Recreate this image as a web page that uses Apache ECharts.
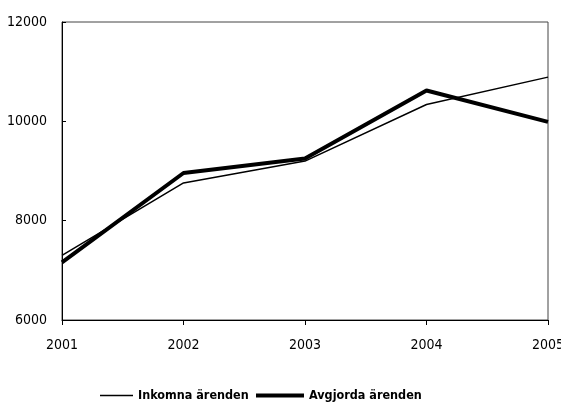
<!DOCTYPE html>
<html><head><meta charset="utf-8">
<script src="https://cdn.jsdelivr.net/npm/echarts@6/dist/echarts.min.js"></script>
<style>html,body{margin:0;padding:0;background:#fff}#c{width:561px;height:404px}</style>
</head><body><div id="c"></div>
<script>
const years = ['2001','2002','2003','2004','2005'];
const inkomna = [7300, 8760, 9200, 10340, 10890];
const avgjorda = [7160, 8960, 9250, 10620, 9990];
const seriesNames = ['Inkomna ärenden', 'Avgjorda ärenden'];
const FONT = '"DejaVu Sans Condensed", "Liberation Sans Narrow", sans-serif';
const chart = echarts.init(document.getElementById('c'), null, {renderer:'canvas'});
const legendText = {fontFamily: FONT, fontWeight: 'bold', fontSize: 12.5, color: '#000'};
chart.setOption({
  animation: false,
  backgroundColor: '#fff',
  grid: {left: 62, right: 13, top: 22, bottom: 84, show: true, borderColor: '#444', borderWidth: 1,
         containLabel: false, outerBoundsMode: 'none'},
  legend: [
    {left: 100, top: 389, padding: 0, icon: 'rect', itemWidth: 33, itemHeight: 1.5, itemGap: 4,
     textStyle: legendText, data: [seriesNames[0]]},
    {left: 256, top: 389, padding: 0, icon: 'rect', itemWidth: 48, itemHeight: 4, itemGap: 4,
     textStyle: legendText, data: [seriesNames[1]]}
  ],
  xAxis: {
    type: 'category', data: years, boundaryGap: false,
    axisLine: {lineStyle: {color: '#000', width: 1}},
    axisTick: {show: true, inside: false, length: 5, lineStyle: {color: '#000'}},
    axisLabel: {fontFamily: FONT, fontSize: 14, color: '#000', margin: 18},
    splitLine: {show: false}
  },
  yAxis: {
    type: 'value', min: 6000, max: 12000, interval: 2000,
    axisLine: {show: true, lineStyle: {color: '#000'}},
    axisTick: {show: true, inside: true, length: 4, lineStyle: {color: '#000'}},
    axisLabel: {fontFamily: FONT, fontSize: 14, color: '#000', margin: 15, formatter: v => String(v)},
    splitLine: {show: false}
  },
  series: [
    {name: seriesNames[0], type: 'line', data: inkomna, symbol: 'none', lineStyle: {color: '#000', width: 1.5}, itemStyle: {color: '#000'}},
    {name: seriesNames[1], type: 'line', data: avgjorda, symbol: 'none', lineStyle: {color: '#000', width: 4}, itemStyle: {color: '#000'}}
  ]
});
</script></body></html>
